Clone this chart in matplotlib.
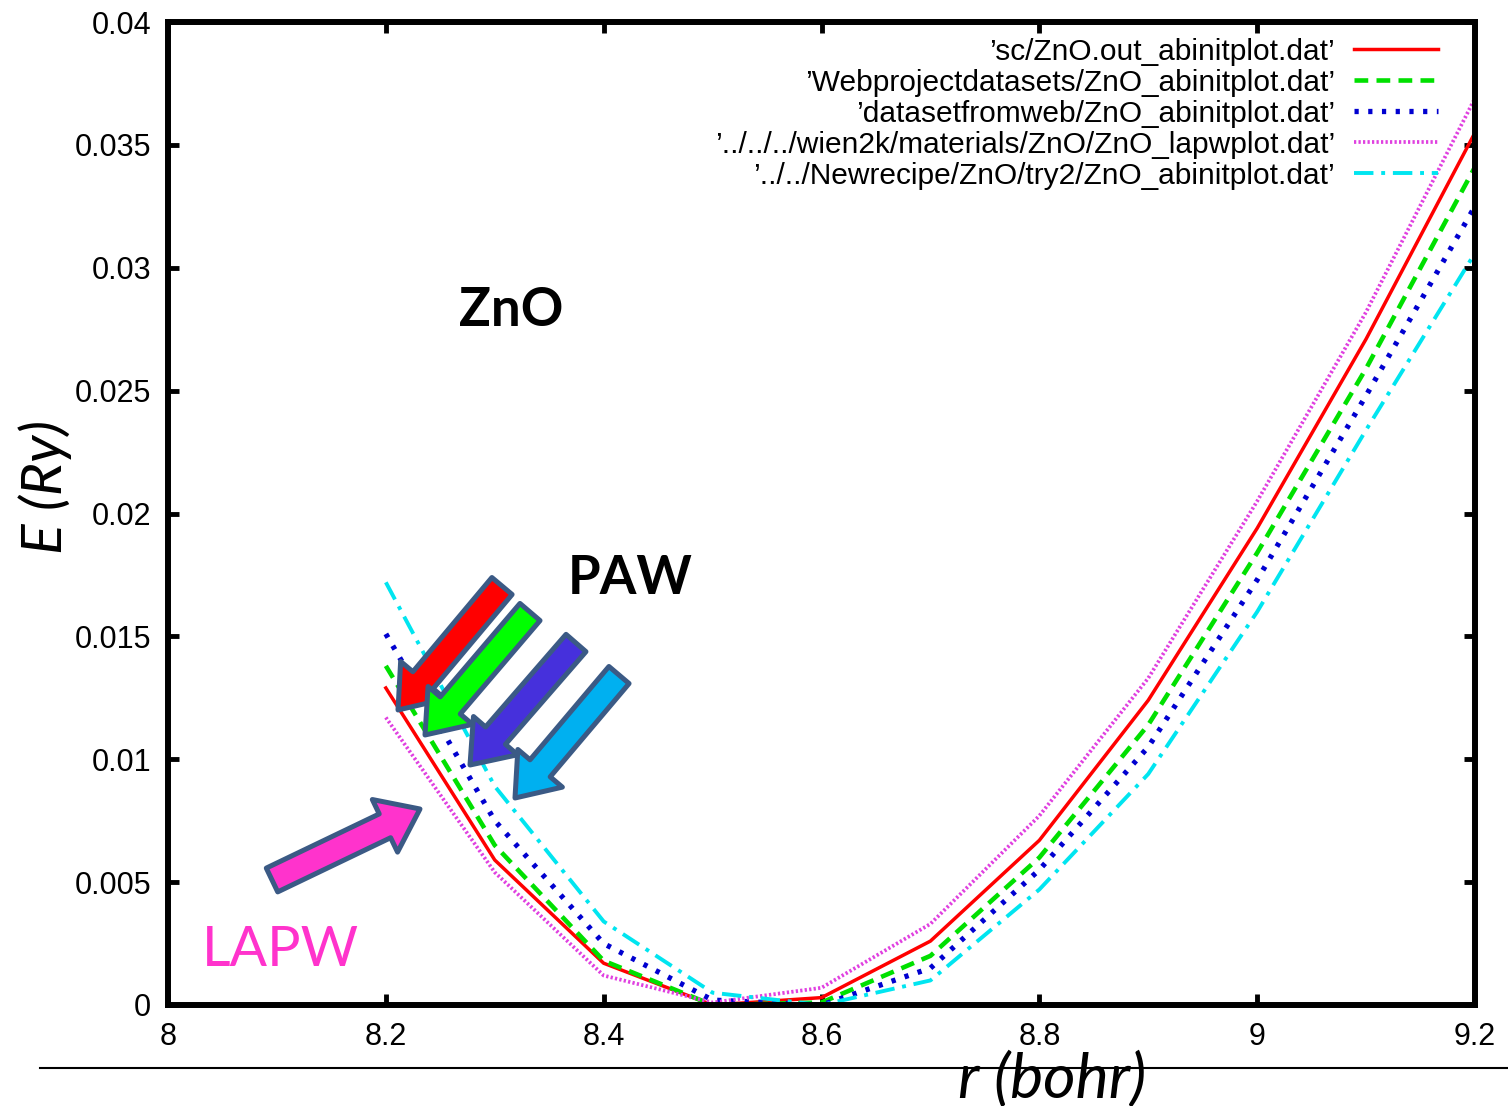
import numpy as np
import matplotlib
matplotlib.use("Agg")
import matplotlib.pyplot as plt
from matplotlib.lines import Line2D

# DATA
r = [8.2, 8.3, 8.4, 8.5, 8.6, 8.7, 8.8, 8.9, 9.0, 9.1, 9.2]
e_sc = [0.0129, 0.0059, 0.0017, 0.0000, 0.0003, 0.0026, 0.0067, 0.0124, 0.0194, 0.0271, 0.0355]
e_web = [0.0138, 0.0065, 0.0018, 0.0000, 0.0001, 0.0020, 0.0060, 0.0114, 0.0184, 0.0259, 0.0341]
e_dsweb = [0.0151, 0.0075, 0.0025, 0.0002, 0.0000, 0.0015, 0.0055, 0.0105, 0.0173, 0.0248, 0.0325]
e_lapw = [0.0117, 0.0054, 0.0012, 0.0001, 0.0007, 0.0033, 0.0077, 0.0133, 0.0205, 0.0282, 0.0369]
e_try2 = [0.0172, 0.0089, 0.0034, 0.0005, 0.0000, 0.0010, 0.0047, 0.0094, 0.0160, 0.0234, 0.0306]

labels = ["\u2019sc/ZnO.out_abinitplot.dat\u2019",
          "\u2019Webprojectdatasets/ZnO_abinitplot.dat\u2019",
          "\u2019datasetfromweb/ZnO_abinitplot.dat\u2019",
          "\u2019../../../wien2k/materials/ZnO/ZnO_lapwplot.dat\u2019",
          "\u2019../../Newrecipe/ZnO/try2/ZnO_abinitplot.dat\u2019"]

xticks = [8, 8.2, 8.4, 8.6, 8.8, 9, 9.2]
xticklabels = ["8", "8.2", "8.4", "8.6", "8.8", "9", "9.2"]
yticks = [0, 0.005, 0.01, 0.015, 0.02, 0.025, 0.03, 0.035, 0.04]
yticklabels = ["0", "0.005", "0.01", "0.015", "0.02", "0.025", "0.03", "0.035", "0.04"]

W, H = 1508, 1106
plt.rcParams["font.family"] = ["Liberation Sans", "DejaVu Sans"]

fig = plt.figure(figsize=(W / 100, H / 100), dpi=100)
ax = fig.add_axes([168 / W, 1 - 1005 / H, (1475 - 168) / W, (1005 - 22) / H])

# curves
ax.plot(r, e_sc, color="#ff0000", lw=2.5, label=labels[0])
ax.plot(r, e_web, color="#00e000", lw=3.3, dashes=(3, 1.8), label=labels[1])
ax.plot(r, e_dsweb, color="#0000d0", lw=3.8, dashes=(0.8, 1.8), label=labels[2])
ax.plot(r, e_lapw, color="#e040e0", lw=2.7, dashes=(0.6, 0.6), label=labels[3])
ax.plot(r, e_try2, color="#00e5f0", lw=2.8, dashes=(5, 2, 1, 2), label=labels[4])

ax.set_xlim(8, 9.2)
ax.set_ylim(0, 0.04)
ax.set_xticks(xticks)
ax.set_xticklabels(xticklabels)
ax.set_yticks(yticks)
ax.set_yticklabels(yticklabels)
ax.tick_params(direction="in", length=8, width=3.5, top=True, right=True,
               labelsize=22, pad=12)
for s in ax.spines.values():
    s.set_linewidth(4.3)

leg = ax.legend(loc="upper right", bbox_to_anchor=(0.9717, 0.984), frameon=False,
                markerfirst=False, fontsize=21.5, handlelength=2.8, handletextpad=0.65,
                labelspacing=0.1, borderaxespad=0, borderpad=0)

# slide overlay: labels
fig.text(45 / W, 1 - 487 / H, "E (Ry)", family="Lato", style="italic",
         fontsize=41, rotation=90, ha="center", va="center")
fig.text(1052 / W, 1 - 1080 / H, "r (bohr)", family="Lato", style="italic",
         fontsize=45, ha="center", va="center")
fig.add_artist(Line2D([40 / W, 1], [1 - 1068 / H] * 2, transform=fig.transFigure,
                      color="black", lw=1.5))

fig.text(511 / W, 1 - 311 / H, "ZnO", family="Lato", weight="bold", fontsize=38,
         ha="center", va="center")
fig.text(630 / W, 1 - 578 / H, "PAW", family="Lato", weight="bold", fontsize=38,
         ha="center", va="center")
fig.text(280 / W, 1 - 950 / H, "LAPW", family="Lato", color="#ff33cc", fontsize=40,
         ha="center", va="center")

# block arrows (tail -> tip, image pixels)
arrows = [((502, 586), (398, 710), "#ff0000"),
          ((530, 612), (425, 735), "#00ff00"),
          ((576, 643), (470, 765), "#4630dc"),
          ((619, 675), (515, 798), "#00b0f0"),
          ((272, 880), (420, 809), "#ff33cc")]
for tail, tip, c in arrows:
    ax.annotate("", xy=(tip[0], H - tip[1]), xytext=(tail[0], H - tail[1]),
                xycoords="figure pixels", textcoords="figure pixels",
                arrowprops=dict(arrowstyle="simple,head_length=28,head_width=42,tail_width=19",
                                mutation_scale=1, fc=c, ec="#3b5a85", lw=3.6,
                                shrinkA=0, shrinkB=0))

fig.savefig("out.png", dpi=100)
